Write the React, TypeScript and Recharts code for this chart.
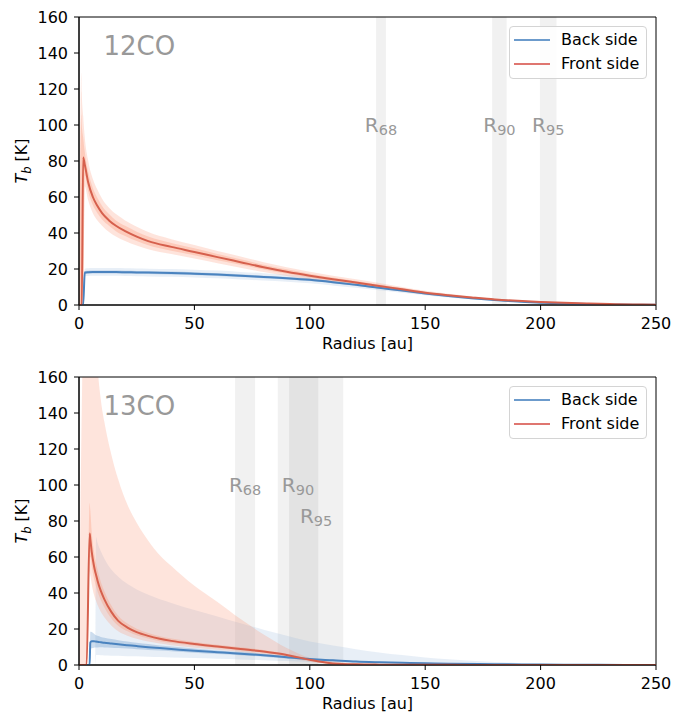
import React from 'react';
import {
  ComposedChart, Area, Line, XAxis, YAxis, ReferenceArea, ReferenceDot,
} from 'recharts';

const FONT = '"DejaVu Sans", sans-serif';
const RED = '#d6604d';
const BLUE = '#4a83bf';
const GREY_TEXT = '#999999';

const xTicks = [0, 50, 100, 150, 200, 250];
const yTicks = [0, 20, 40, 60, 80, 100, 120, 140, 160];

// ---- 12CO: radius [au] and brightness temperature [K] ----
const r12 = [0, 1.0, 1.2, 1.8, 2.5, 4, 6, 8, 10, 13, 16, 20, 25, 30, 40, 50, 60, 70, 80, 90,
  100, 110, 120, 130, 140, 150, 160, 170, 180, 190, 200, 210, 220, 230, 240, 250];
const front12 = [0, 0, 0, 82, 78, 68, 60, 55, 51, 47, 44, 41, 38, 35.5, 32.3, 29.5, 26.6, 23.8, 21, 18.5,
  16.3, 14.3, 12.5, 10.6, 8.7, 6.8, 5.4, 4.2, 3.1, 2.3, 1.7, 1.2, 0.8, 0.5, 0.3, 0.2];
const front12Lo1 = [0, 0, 0, 0, 72, 63, 55.5, 51, 47.5, 44, 41, 38.3, 35.5, 33.2, 30.2, 27.6, 24.9, 22.3, 19.7, 17.3,
  15.3, 13.4, 11.7, 9.9, 8.1, 6.3, 5.0, 3.9, 2.9, 2.1, 1.5, 1.1, 0.7, 0.45, 0.25, 0.15];
const front12Hi1 = [0, 106, 100, 93, 85, 74, 65, 59.5, 55, 50.5, 47, 44, 40.7, 38, 34.5, 31.5, 28.4, 25.4, 22.4, 19.8,
  17.4, 15.3, 13.4, 11.4, 9.4, 7.4, 5.9, 4.6, 3.4, 2.5, 1.9, 1.3, 0.9, 0.55, 0.35, 0.25];
const front12Lo2 = [0, 0, 0, 0, 66, 58, 51, 47, 44, 40.5, 38, 35.5, 33, 31, 28.3, 25.8, 23.2, 20.7, 18.3, 16.1,
  14.2, 12.4, 10.8, 9.1, 7.4, 5.8, 4.6, 3.5, 2.6, 1.9, 1.4, 1.0, 0.6, 0.4, 0.2, 0.1];
const front12Hi2 = [0, 129, 118, 105, 93, 80, 70, 64, 59, 54, 50.5, 47, 43.5, 40.5, 36.5, 33.3, 30, 27, 23.8, 21,
  18.5, 16.3, 14.3, 12.2, 10, 7.9, 6.3, 4.9, 3.7, 2.7, 2.0, 1.4, 1.0, 0.6, 0.4, 0.3];
const back12 = [0, 0, 0, 0, 18, 18.2, 18.3, 18.3, 18.3, 18.3, 18.3, 18.2, 18.1, 18.0, 17.8, 17.4, 16.9, 16.3, 15.6, 14.9,
  14.0, 12.7, 11.2, 9.6, 8.0, 6.4, 5.0, 3.8, 2.8, 1.9, 1.3, 0.8, 0.5, 0.3, 0.2, 0.1];
const back12Lo1 = [0, 0, 0, 0, 17.2, 17.4, 17.5, 17.5, 17.5, 17.5, 17.5, 17.4, 17.3, 17.2, 17.0, 16.6, 16.1, 15.5, 14.9, 14.2,
  13.3, 12.1, 10.6, 9.1, 7.6, 6.0, 4.7, 3.6, 2.6, 1.8, 1.2, 0.75, 0.45, 0.25, 0.15, 0.08];
const back12Hi1 = [0, 0, 0, 0, 18.8, 19.0, 19.1, 19.1, 19.1, 19.1, 19.1, 19.0, 18.9, 18.8, 18.6, 18.2, 17.7, 17.1, 16.3, 15.6,
  14.7, 13.3, 11.8, 10.1, 8.4, 6.8, 5.3, 4.0, 3.0, 2.0, 1.4, 0.85, 0.55, 0.35, 0.25, 0.12];
const back12Lo2 = [0, 0, 0, 0, 16, 16.1, 16.2, 16.2, 16.2, 16.2, 16.2, 16.1, 16.0, 15.9, 15.7, 15.3, 14.8, 14.2, 13.6, 12.9,
  12.1, 10.9, 9.6, 8.2, 6.8, 5.4, 4.2, 3.2, 2.3, 1.6, 1.0, 0.6, 0.4, 0.2, 0.1, 0.05];
const back12Hi2 = [0, 0, 0, 0, 20.2, 20.4, 20.5, 20.5, 20.5, 20.5, 20.5, 20.4, 20.3, 20.2, 20.0, 19.6, 19.1, 18.4, 17.7, 16.9,
  15.9, 14.5, 12.8, 11.0, 9.2, 7.4, 5.8, 4.4, 3.3, 2.3, 1.6, 1.0, 0.6, 0.4, 0.3, 0.15];
// R68 / R90 / R95 ranges [au]
const radii12 = [
  { tag: '68', lo: 128.7, hi: 133.0 },
  { tag: '90', lo: 179.0, hi: 185.3 },
  { tag: '95', lo: 199.7, hi: 206.9 },
];

// ---- 13CO ----
const r13 = [0, 2.0, 3.3, 4.6, 4.9, 5.5, 6.5, 7.0, 7.4, 8, 9.5, 11, 14, 17, 21, 25, 30, 35, 40, 50,
  60, 70, 80, 90, 100, 110, 120, 130, 140, 150, 160, 180, 200, 225, 250];
const front13 = [0, 0, 0, 73, 70, 63, 55, 52, 50, 47, 41, 36.5, 29.5, 24.5, 20.8, 18.3, 16.2, 14.6, 13.4, 11.7,
  10.3, 8.9, 7.5, 5.6, 2.9, 0.9, 0.35, 0.2, 0.15, 0.1, 0.08, 0.05, 0.03, 0.02, 0.01];
const front13Lo1 = [0, 0, 0, 60, 60, 55, 48, 45.5, 43.5, 41, 36, 32, 26, 21.8, 18.7, 16.5, 14.7, 13.2, 12.2, 10.7,
  9.4, 8.1, 6.8, 5.0, 2.4, 0.6, 0.2, 0.1, 0.05, 0.03, 0.02, 0.01, 0, 0, 0];
const front13Hi1 = [0, 0, 0, 90, 86, 74, 63, 59, 56.5, 53, 46, 41, 33, 27.3, 23, 20.2, 17.8, 16, 14.7, 12.8,
  11.3, 9.8, 8.3, 6.3, 3.5, 1.3, 0.6, 0.35, 0.25, 0.18, 0.14, 0.1, 0.06, 0.04, 0.02];
const front13Lo2 = [0, 0, 0, 52, 50, 45, 39, 37, 35.5, 33.5, 29.5, 26.5, 22, 18.8, 16.3, 14.6, 13, 11.9, 11, 9.6,
  8.5, 7.3, 6.0, 4.2, 1.8, 0.4, 0.1, 0.05, 0.02, 0.01, 0, 0, 0, 0, 0];
const front13Hi2 = [18, 200, 240, 240, 240, 240, 225, 200, 185, 168, 147, 135, 117, 103, 89, 79, 69, 61, 55, 44,
  35, 25.5, 17, 9.5, 4, 2.0, 1.0, 0.6, 0.4, 0.3, 0.2, 0.1, 0.05, 0.03, 0.02];
const back13 = [0, 0, 0, 0, 12.5, 13.2, 13.2, 13.1, 13.0, 12.9, 12.6, 12.3, 11.9, 11.5, 11.0, 10.5, 9.9, 9.4, 8.9, 7.9,
  7.1, 6.3, 5.4, 4.3, 3.3, 2.6, 1.9, 1.5, 1.2, 0.95, 0.75, 0.45, 0.25, 0.1, 0.05];
const back13Lo1 = [0, 0, 0, 0, 9, 9.3, 9.6, 9.7, 9.7, 9.7, 9.8, 9.7, 9.6, 9.4, 9.1, 8.8, 8.4, 8.0, 7.6, 6.8,
  6.1, 5.4, 4.6, 3.6, 2.7, 2.1, 1.5, 1.2, 0.95, 0.75, 0.6, 0.35, 0.2, 0.08, 0.04];
const back13Hi1 = [0, 0, 0, 0, 18.5, 18.3, 17.3, 16.8, 16.5, 16.2, 15.6, 15.1, 14.4, 13.8, 13.1, 12.4, 11.6, 10.9, 10.3, 9.1,
  8.1, 7.2, 6.2, 5.0, 3.9, 3.1, 2.3, 1.8, 1.45, 1.15, 0.9, 0.55, 0.3, 0.12, 0.06];
const back13Lo2 = [0, 0, 0, 0, 0, 0, 0, 0, 5.5, 5.5, 5.4, 5.3, 5.2, 5.1, 4.9, 4.8, 4.6, 4.4, 4.2, 3.9,
  3.5, 3.1, 2.7, 2.2, 1.7, 1.3, 1.0, 0.8, 0.6, 0.45, 0.35, 0.2, 0.1, 0.05, 0.02];
const back13Hi2 = [0, 0, 0, 0, 0, 0, 0, 0, 71, 68, 63, 59, 53, 49, 45, 42, 39, 36.5, 34.5, 30.5,
  27, 23.2, 19.6, 16.2, 13, 10.8, 8.8, 7.0, 5.5, 4.2, 3.2, 1.7, 0.7, 0.25, 0.1];
const radii13 = [
  { tag: '68', lo: 67.6, hi: 76.3 },
  { tag: '90', lo: 86.1, hi: 103.7 },
  { tag: '95', lo: 91.0, hi: 114.5 },
];

type Row = {
  r: number; front: number; back: number;
  f1: number[]; f2: number[]; b1: number[]; b2: number[];
};

function buildRows(
  r: number[], front: number[], back: number[],
  fLo1: number[], fHi1: number[], fLo2: number[], fHi2: number[],
  bLo1: number[], bHi1: number[], bLo2: number[], bHi2: number[],
): Row[] {
  return r.map((x, i) => ({
    r: x,
    front: front[i],
    back: back[i],
    f1: [fLo1[i], fHi1[i]],
    f2: [fLo2[i], fHi2[i]],
    b1: [bLo1[i], bHi1[i]],
    b2: [bLo2[i], bHi2[i]],
  }));
}

const rows12 = buildRows(r12, front12, back12, front12Lo1, front12Hi1, front12Lo2, front12Hi2,
  back12Lo1, back12Hi1, back12Lo2, back12Hi2);
const rows13 = buildRows(r13, front13, back13, front13Lo1, front13Hi1, front13Lo2, front13Hi2,
  back13Lo1, back13Hi1, back13Lo2, back13Hi2);

const tickStyle = { fill: '#000', fontSize: 16, fontFamily: FONT };

const xLabel = (p: any) => {
  const vb = p.viewBox;
  return (
    <text x={vb.x + vb.width / 2} y={vb.y + 44} textAnchor="middle" fontSize={16} fontFamily={FONT} fill="#000">
      Radius [au]
    </text>
  );
};

const yLabel = (p: any) => {
  const vb = p.viewBox;
  const x = vb.x + 21;
  const y = vb.y + vb.height / 2;
  return (
    <text x={x} y={y + 6} transform={`rotate(-90 ${x} ${y})`} textAnchor="middle" fontSize={16} fontFamily={FONT} fill="#000">
      <tspan fontStyle="italic">T</tspan>
      <tspan fontStyle="italic" fontSize={11.5} dy={3.5}>b</tspan>
      <tspan dy={-3.5}> [K]</tspan>
    </text>
  );
};

const radiusTag = (sub: string) => (p: any) => {
  const vb = p.viewBox;
  const cx = vb.x + (vb.width || 0) / 2;
  const cy = vb.y + (vb.height || 0) / 2;
  return (
    <text x={cx} y={cy + 7.3} textAnchor="middle" fontSize={20} fontFamily={FONT} fill={GREY_TEXT}>
      R<tspan fontSize={14.5} dy={3}>{sub}</tspan>
    </text>
  );
};

const titleTag = (title: string) => (p: any) => {
  const vb = p.viewBox;
  return (
    <text x={vb.x + (vb.width || 0) / 2} y={vb.y + (vb.height || 0) / 2 + 9.5} fontSize={26} fontFamily={FONT} fill={GREY_TEXT}>
      {title}
    </text>
  );
};

function LegendBox() {
  const items = [
    { name: 'Back side', color: '#6c9bcc' },
    { name: 'Front side', color: '#df7670' },
  ];
  return (
    <div style={{
      position: 'absolute', left: 509, top: 26, width: 138, height: 53, boxSizing: 'border-box',
      border: '1px solid #d4d4d4', borderRadius: 4, background: 'rgba(255,255,255,0.85)',
    }}>
      {items.map((it, i) => (
        <div key={it.name} style={{ position: 'absolute', left: 0, top: 1 + i * 24, height: 24, display: 'flex', alignItems: 'center' }}>
          <svg width={46} height={24} style={{ display: 'block' }}>
            <line x1={4} x2={40} y1={12} y2={12} stroke={it.color} strokeWidth={2} />
          </svg>
          <span style={{ fontFamily: FONT, fontSize: 16, color: '#000', marginLeft: 5, lineHeight: '24px' }}>{it.name}</span>
        </div>
      ))}
    </div>
  );
}

function Panel({ rows, title, radii, r95Y }: { rows: Row[]; title: string; radii: typeof radii12; r95Y: number }) {
  const tagY = (tag: string) => (tag === '95' ? r95Y : 100);
  return (
    <div style={{ position: 'relative', width: 674, height: 360 }}>
      <ComposedChart width={674} height={360} data={rows} margin={{ top: 17, right: 18, bottom: 10, left: 0 }}>
        <XAxis dataKey="r" type="number" domain={[0, 250]} ticks={xTicks} allowDataOverflow height={45}
          tickSize={5} tickMargin={8} stroke="#000" tick={tickStyle} label={xLabel} />
        <YAxis type="number" domain={[0, 160]} ticks={yTicks} allowDataOverflow width={79}
          tickSize={5} tickMargin={6} stroke="#000" tick={tickStyle} label={yLabel} />
        {radii.map((b) => (
          <ReferenceArea key={b.tag} x1={b.lo} x2={b.hi} fill="#000" fillOpacity={0.055} stroke="none" />
        ))}
        <Area dataKey="b2" type="monotone" stroke="none" fill="#94b8dc" fillOpacity={0.22}
          isAnimationActive={false} legendType="none" activeDot={false} />
        <Area dataKey="b1" type="monotone" stroke="none" fill="#5b8fc7" fillOpacity={0.3}
          isAnimationActive={false} legendType="none" activeDot={false} />
        <Area dataKey="f2" type="monotone" stroke="none" fill="#fc9272" fillOpacity={0.25}
          isAnimationActive={false} legendType="none" activeDot={false} />
        <Area dataKey="f1" type="monotone" stroke="none" fill="#fc9272" fillOpacity={0.3}
          isAnimationActive={false} legendType="none" activeDot={false} />
        <Line name="Back side" dataKey="back" type="monotone" stroke={BLUE} strokeWidth={2}
          dot={false} activeDot={false} isAnimationActive={false} />
        <Line name="Front side" dataKey="front" type="monotone" stroke={RED} strokeWidth={2}
          dot={false} activeDot={false} isAnimationActive={false} />
        <ReferenceArea x1={0} x2={250} y1={0} y2={160} fill="none" stroke="#000" strokeWidth={1} ifOverflow="visible" />
        {radii.map((b) => (
          <ReferenceDot key={`t${b.tag}`} x={(b.lo + b.hi) / 2} y={tagY(b.tag)} r={0} fill="none" stroke="none"
            label={radiusTag(b.tag)} />
        ))}
        <ReferenceDot x={10.6} y={144} r={0} fill="none" stroke="none" label={titleTag(title)} />
      </ComposedChart>
      <LegendBox />
    </div>
  );
}

export default function App() {
  return (
    <div style={{ position: 'absolute', left: 0, top: 0, width: 674, height: 713, overflow: 'hidden', background: '#fff' }}>
      <div style={{ position: 'absolute', left: 0, top: 0 }}>
        <Panel rows={rows12} title="12CO" radii={radii12} r95Y={100} />
      </div>
      <div style={{ position: 'absolute', left: 0, top: 360 }}>
        <Panel rows={rows13} title="13CO" radii={radii13} r95Y={83} />
      </div>
    </div>
  );
}
